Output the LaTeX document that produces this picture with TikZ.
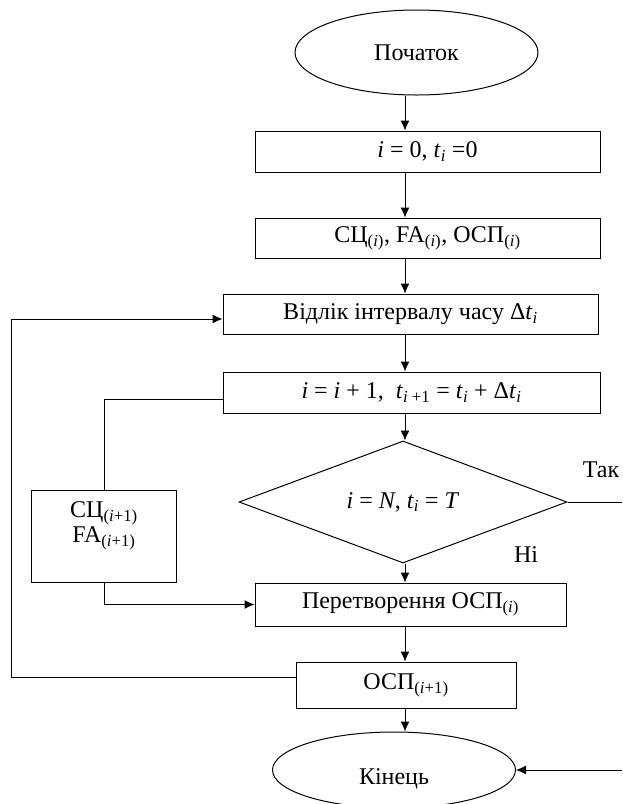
\documentclass[tikz,border=0pt]{standalone}
\usepackage{fontspec}
\setmainfont{Liberation Serif}
\usetikzlibrary{shapes.geometric,arrows.meta}

\newcommand{\ix}[1]{\textsubscript{\textit{#1}}}

\tikzset{
  blk/.style={draw, rectangle, inner sep=0pt},
  term/.style={draw, ellipse, inner sep=0pt},
  cond/.style={draw, diamond, aspect=2.7, inner sep=0pt},
}

\begin{document}
\begin{tikzpicture}[>={Latex[length=10pt,width=9pt]}, x=1pt, y=-1pt, line width=1pt,
    font=\fontsize{24}{29}\selectfont]
  \useasboundingbox (0,0) rectangle (622,804);
  \clip (0,0) rectangle (622,804);
  \coordinate (spine) at (405,0);
  \coordinate (edge) at (622,0);

  \node[term, minimum width=243pt, minimum height=85pt] (start) at (416.5,52.5) {Початок};
  \node[blk, minimum width=345pt, minimum height=41pt] (init) at (427.5,151.5)
    {\textit{i} = 0, \textit{t}\ix{i} =0};
  \node[blk, minimum width=345pt, minimum height=40pt] (prep) at (427.5,238)
    {СЦ\textsubscript{(\textit{i})}, FA\textsubscript{(\textit{i})}, ОСП\textsubscript{(\textit{i})}};
  \node[blk, minimum width=375pt, minimum height=40pt] (count) at (410.5,314)
    {Відлік інтервалу часу Δ\textit{t}\ix{i}};
  \node[blk, minimum width=377pt, minimum height=41pt] (incr) at (411.5,392.5)
    {\textit{i} = \textit{i} + 1,~ \textit{t}\textsubscript{\textit{i} +1} = \textit{t}\ix{i} + Δ\textit{t}\ix{i}};
  \node[cond, minimum width=328pt, minimum height=122pt] (check) at (403,502)
    {\textit{i} = \textit{N}, \textit{t}\ix{i} = \textit{T}};
  \node[blk, minimum width=311pt, minimum height=43pt] (conv) at (410.5,604.5)
    {Перетворення ОСП\textsubscript{(\textit{i})}};
  \node[blk, minimum width=145pt, minimum height=92pt] (upd) at (104,536) {};
  \node[align=center, font=\fontsize{24}{25}\selectfont] (updtext) at (104,526)
    {СЦ\textsubscript{(\textit{i}+1)}\\FA\textsubscript{(\textit{i}+1)}};
  \node[blk, minimum width=220pt, minimum height=46pt] (next) at (406,685)
    {ОСП\textsubscript{(\textit{i}+1)}};
  \node[term, minimum width=243pt, minimum height=76pt] (finish) at (394,770) {};
  \node (finishtext) at (394,779) {Кінець};

  \node (yes) at (601,470) {Так};
  \node (no) at (526,555) {Ні};

  % main line
  \foreach \a/\b in {start/init, init/prep, prep/count, count/incr, incr/check,
                     check/conv, conv/next, next/finish}
    \draw[->] (\a.south -| spine) -- (\b.north -| spine);

  % side branches
  \draw ([yshift=-7pt]incr.west) -| (upd.north);
  \draw[->] (upd.south) |- (conv.west);
  \draw[->] ([yshift=8pt]next.west) -- ++(-284,0) |- ([yshift=-5pt]count.west);
  \draw (check.east) -- (check.east -| edge);
  \draw[->] (finish.east -| edge) -- (finish.east);
\end{tikzpicture}
\end{document}
